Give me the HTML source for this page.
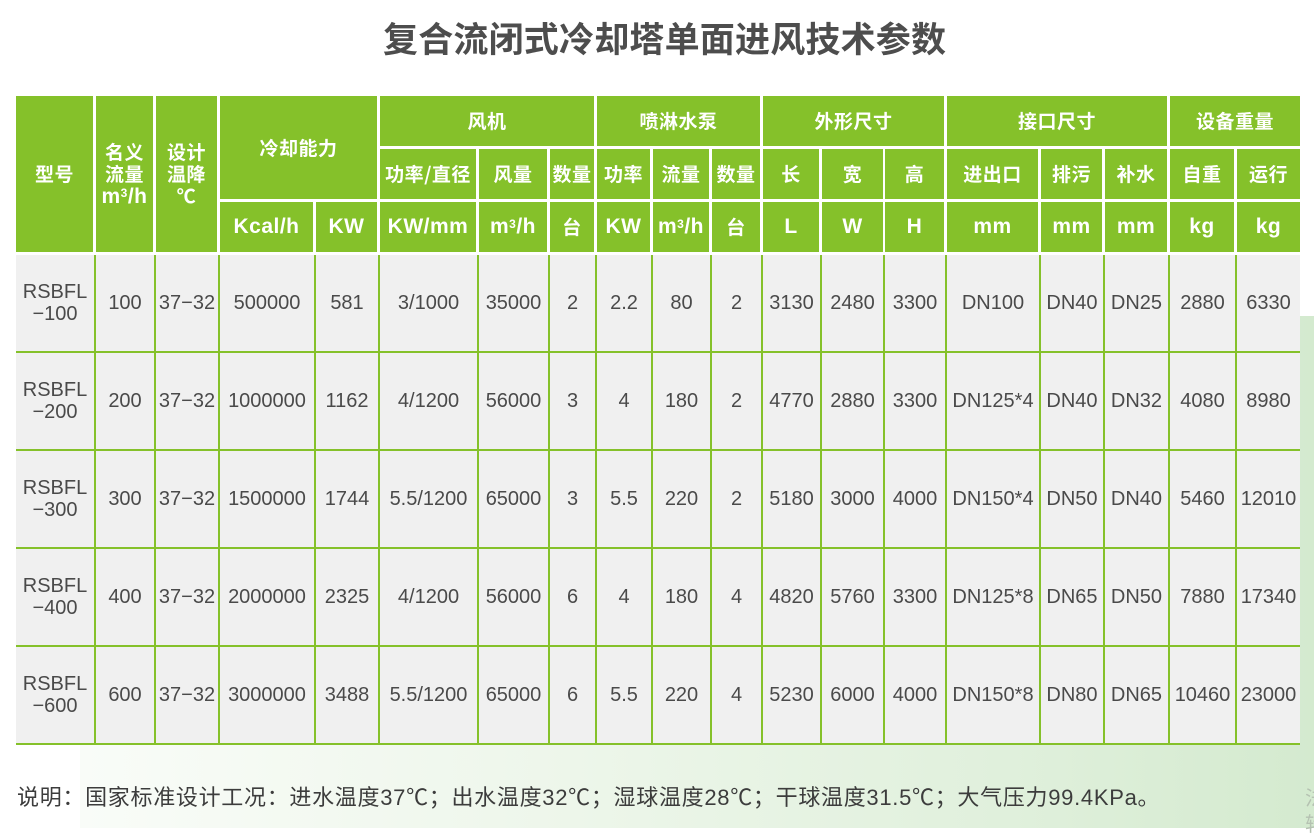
<!DOCTYPE html>
<html>
<head>
<meta charset="utf-8">
<style>
html,body{margin:0;padding:0;}
body{width:1314px;height:828px;position:relative;overflow:hidden;background:#fff;font-family:"Liberation Sans","Noto Sans CJK SC",sans-serif;}
.bgshape{position:absolute;left:80px;top:316px;right:0;bottom:0;background:linear-gradient(to right,#f9fcf8 0%,#edf6ea 40%,#e0f0dc 75%,#d4eacf 100%);border-top-left-radius:40px;}
.title{position:absolute;left:383px;top:20px;height:35px;line-height:35px;font-family:"Noto Sans CJK SC","Liberation Sans",sans-serif;font-size:35px;font-weight:bold;color:#4d4d4d;white-space:nowrap;letter-spacing:0.2px;}
.g{position:absolute;background:#85c12a;color:#fff;display:flex;align-items:center;justify-content:center;text-align:center;font-weight:bold;font-size:19px;letter-spacing:0.5px;white-space:nowrap;font-family:"Noto Sans CJK SC","Liberation Sans",sans-serif;line-height:22px;}
.u{font-family:"Liberation Sans","Noto Sans CJK SC",sans-serif;font-size:21px;letter-spacing:0.5px;}
.u sup{font-size:12px;vertical-align:top;position:relative;top:-3px;}
.gray{position:absolute;left:16px;top:255px;width:1284px;height:490px;background:#f0f0f0;}
.hl{position:absolute;left:16px;width:1284px;height:2px;background:#85c12a;}
.vl{position:absolute;top:255px;width:2px;height:490px;background:#85c12a;}
.c{position:absolute;display:flex;align-items:center;justify-content:center;text-align:center;font-size:20px;color:#4a4a4a;white-space:nowrap;line-height:22px;}
.foot{position:absolute;left:17px;top:786px;height:24px;line-height:24px;font-size:22px;color:#3c3c3c;letter-spacing:0.7px;white-space:nowrap;}
.faint{position:absolute;left:1305px;font-size:20px;color:#b5c2b2;font-family:"Noto Sans CJK SC",sans-serif;}
</style>
</head>
<body>
<div class="bgshape"></div>
<div class="title">复合流闭式冷却塔单面进风技术参数</div>

<!-- header -->
<div class="g" style="left:16px;top:96px;width:77px;height:156px;">型号</div>
<div class="g" style="left:96px;top:96px;width:57px;height:156px;"><div>名义<br>流量<br><span class="u">m<sup>3</sup>/h</span></div></div>
<div class="g" style="left:156px;top:96px;width:61px;height:156px;"><div>设计<br>温降<br>℃</div></div>
<div class="g" style="left:220px;top:96px;width:157px;height:103px;">冷却能力</div>
<div class="g" style="left:380px;top:96px;width:214px;height:50px;">风机</div>
<div class="g" style="left:597px;top:96px;width:163px;height:50px;">喷淋水泵</div>
<div class="g" style="left:763px;top:96px;width:181px;height:50px;">外形尺寸</div>
<div class="g" style="left:947px;top:96px;width:220px;height:50px;">接口尺寸</div>
<div class="g" style="left:1170px;top:96px;width:130px;height:50px;">设备重量</div>

<div class="g" style="left:380px;top:149px;width:96px;height:50px;">功率/直径</div>
<div class="g" style="left:479px;top:149px;width:68px;height:50px;">风量</div>
<div class="g" style="left:550px;top:149px;width:44px;height:50px;">数量</div>
<div class="g" style="left:597px;top:149px;width:53px;height:50px;">功率</div>
<div class="g" style="left:653px;top:149px;width:56px;height:50px;">流量</div>
<div class="g" style="left:712px;top:149px;width:48px;height:50px;">数量</div>
<div class="g" style="left:763px;top:149px;width:56px;height:50px;">长</div>
<div class="g" style="left:822px;top:149px;width:61px;height:50px;">宽</div>
<div class="g" style="left:885px;top:149px;width:59px;height:50px;">高</div>
<div class="g" style="left:947px;top:149px;width:91px;height:50px;">进出口</div>
<div class="g" style="left:1041px;top:149px;width:61px;height:50px;">排污</div>
<div class="g" style="left:1105px;top:149px;width:62px;height:50px;">补水</div>
<div class="g" style="left:1170px;top:149px;width:64px;height:50px;">自重</div>
<div class="g" style="left:1237px;top:149px;width:63px;height:50px;">运行</div>

<div class="g" style="left:220px;top:202px;width:93px;height:50px;"><span class="u">Kcal/h</span></div>
<div class="g" style="left:316px;top:202px;width:61px;height:50px;"><span class="u">KW</span></div>
<div class="g" style="left:380px;top:202px;width:96px;height:50px;"><span class="u">KW/mm</span></div>
<div class="g" style="left:479px;top:202px;width:68px;height:50px;"><span class="u">m<sup>3</sup>/h</span></div>
<div class="g" style="left:550px;top:202px;width:44px;height:50px;">台</div>
<div class="g" style="left:597px;top:202px;width:53px;height:50px;"><span class="u">KW</span></div>
<div class="g" style="left:653px;top:202px;width:56px;height:50px;"><span class="u">m<sup>3</sup>/h</span></div>
<div class="g" style="left:712px;top:202px;width:48px;height:50px;">台</div>
<div class="g" style="left:763px;top:202px;width:56px;height:50px;"><span class="u">L</span></div>
<div class="g" style="left:822px;top:202px;width:61px;height:50px;"><span class="u">W</span></div>
<div class="g" style="left:885px;top:202px;width:59px;height:50px;"><span class="u">H</span></div>
<div class="g" style="left:947px;top:202px;width:91px;height:50px;"><span class="u">mm</span></div>
<div class="g" style="left:1041px;top:202px;width:61px;height:50px;"><span class="u">mm</span></div>
<div class="g" style="left:1105px;top:202px;width:62px;height:50px;"><span class="u">mm</span></div>
<div class="g" style="left:1170px;top:202px;width:64px;height:50px;"><span class="u">kg</span></div>
<div class="g" style="left:1237px;top:202px;width:63px;height:50px;"><span class="u">kg</span></div>

<!-- body grid -->
<div class="gray"></div>
<div class="hl" style="top:351px;"></div>
<div class="hl" style="top:449px;"></div>
<div class="hl" style="top:547px;"></div>
<div class="hl" style="top:645px;"></div>
<div class="hl" style="top:743px;"></div>
<div class="vl" style="left:94px;"></div>
<div class="vl" style="left:154px;"></div>
<div class="vl" style="left:218px;"></div>
<div class="vl" style="left:314px;"></div>
<div class="vl" style="left:378px;"></div>
<div class="vl" style="left:477px;"></div>
<div class="vl" style="left:548px;"></div>
<div class="vl" style="left:595px;"></div>
<div class="vl" style="left:651px;"></div>
<div class="vl" style="left:710px;"></div>
<div class="vl" style="left:761px;"></div>
<div class="vl" style="left:820px;"></div>
<div class="vl" style="left:883px;"></div>
<div class="vl" style="left:945px;"></div>
<div class="vl" style="left:1039px;"></div>
<div class="vl" style="left:1103px;"></div>
<div class="vl" style="left:1168px;"></div>
<div class="vl" style="left:1235px;"></div>

<!-- row 1 -->
<div class="c" style="left:16px;top:255px;width:78px;height:96px;"><div>RSBFL<br>−100</div></div>
<div class="c" style="left:96px;top:255px;width:58px;height:96px;">100</div>
<div class="c" style="left:156px;top:255px;width:62px;height:96px;">37−32</div>
<div class="c" style="left:220px;top:255px;width:94px;height:96px;">500000</div>
<div class="c" style="left:316px;top:255px;width:62px;height:96px;">581</div>
<div class="c" style="left:380px;top:255px;width:97px;height:96px;">3/1000</div>
<div class="c" style="left:479px;top:255px;width:69px;height:96px;">35000</div>
<div class="c" style="left:550px;top:255px;width:45px;height:96px;">2</div>
<div class="c" style="left:597px;top:255px;width:54px;height:96px;">2.2</div>
<div class="c" style="left:653px;top:255px;width:57px;height:96px;">80</div>
<div class="c" style="left:712px;top:255px;width:49px;height:96px;">2</div>
<div class="c" style="left:763px;top:255px;width:57px;height:96px;">3130</div>
<div class="c" style="left:822px;top:255px;width:61px;height:96px;">2480</div>
<div class="c" style="left:885px;top:255px;width:60px;height:96px;">3300</div>
<div class="c" style="left:947px;top:255px;width:92px;height:96px;">DN100</div>
<div class="c" style="left:1041px;top:255px;width:62px;height:96px;">DN40</div>
<div class="c" style="left:1105px;top:255px;width:63px;height:96px;">DN25</div>
<div class="c" style="left:1170px;top:255px;width:65px;height:96px;">2880</div>
<div class="c" style="left:1237px;top:255px;width:63px;height:96px;">6330</div>

<!-- row 2 -->
<div class="c" style="left:16px;top:353px;width:78px;height:96px;"><div>RSBFL<br>−200</div></div>
<div class="c" style="left:96px;top:353px;width:58px;height:96px;">200</div>
<div class="c" style="left:156px;top:353px;width:62px;height:96px;">37−32</div>
<div class="c" style="left:220px;top:353px;width:94px;height:96px;">1000000</div>
<div class="c" style="left:316px;top:353px;width:62px;height:96px;">1162</div>
<div class="c" style="left:380px;top:353px;width:97px;height:96px;">4/1200</div>
<div class="c" style="left:479px;top:353px;width:69px;height:96px;">56000</div>
<div class="c" style="left:550px;top:353px;width:45px;height:96px;">3</div>
<div class="c" style="left:597px;top:353px;width:54px;height:96px;">4</div>
<div class="c" style="left:653px;top:353px;width:57px;height:96px;">180</div>
<div class="c" style="left:712px;top:353px;width:49px;height:96px;">2</div>
<div class="c" style="left:763px;top:353px;width:57px;height:96px;">4770</div>
<div class="c" style="left:822px;top:353px;width:61px;height:96px;">2880</div>
<div class="c" style="left:885px;top:353px;width:60px;height:96px;">3300</div>
<div class="c" style="left:947px;top:353px;width:92px;height:96px;">DN125*4</div>
<div class="c" style="left:1041px;top:353px;width:62px;height:96px;">DN40</div>
<div class="c" style="left:1105px;top:353px;width:63px;height:96px;">DN32</div>
<div class="c" style="left:1170px;top:353px;width:65px;height:96px;">4080</div>
<div class="c" style="left:1237px;top:353px;width:63px;height:96px;">8980</div>

<!-- row 3 -->
<div class="c" style="left:16px;top:451px;width:78px;height:96px;"><div>RSBFL<br>−300</div></div>
<div class="c" style="left:96px;top:451px;width:58px;height:96px;">300</div>
<div class="c" style="left:156px;top:451px;width:62px;height:96px;">37−32</div>
<div class="c" style="left:220px;top:451px;width:94px;height:96px;">1500000</div>
<div class="c" style="left:316px;top:451px;width:62px;height:96px;">1744</div>
<div class="c" style="left:380px;top:451px;width:97px;height:96px;">5.5/1200</div>
<div class="c" style="left:479px;top:451px;width:69px;height:96px;">65000</div>
<div class="c" style="left:550px;top:451px;width:45px;height:96px;">3</div>
<div class="c" style="left:597px;top:451px;width:54px;height:96px;">5.5</div>
<div class="c" style="left:653px;top:451px;width:57px;height:96px;">220</div>
<div class="c" style="left:712px;top:451px;width:49px;height:96px;">2</div>
<div class="c" style="left:763px;top:451px;width:57px;height:96px;">5180</div>
<div class="c" style="left:822px;top:451px;width:61px;height:96px;">3000</div>
<div class="c" style="left:885px;top:451px;width:60px;height:96px;">4000</div>
<div class="c" style="left:947px;top:451px;width:92px;height:96px;">DN150*4</div>
<div class="c" style="left:1041px;top:451px;width:62px;height:96px;">DN50</div>
<div class="c" style="left:1105px;top:451px;width:63px;height:96px;">DN40</div>
<div class="c" style="left:1170px;top:451px;width:65px;height:96px;">5460</div>
<div class="c" style="left:1237px;top:451px;width:63px;height:96px;">12010</div>

<!-- row 4 -->
<div class="c" style="left:16px;top:549px;width:78px;height:96px;"><div>RSBFL<br>−400</div></div>
<div class="c" style="left:96px;top:549px;width:58px;height:96px;">400</div>
<div class="c" style="left:156px;top:549px;width:62px;height:96px;">37−32</div>
<div class="c" style="left:220px;top:549px;width:94px;height:96px;">2000000</div>
<div class="c" style="left:316px;top:549px;width:62px;height:96px;">2325</div>
<div class="c" style="left:380px;top:549px;width:97px;height:96px;">4/1200</div>
<div class="c" style="left:479px;top:549px;width:69px;height:96px;">56000</div>
<div class="c" style="left:550px;top:549px;width:45px;height:96px;">6</div>
<div class="c" style="left:597px;top:549px;width:54px;height:96px;">4</div>
<div class="c" style="left:653px;top:549px;width:57px;height:96px;">180</div>
<div class="c" style="left:712px;top:549px;width:49px;height:96px;">4</div>
<div class="c" style="left:763px;top:549px;width:57px;height:96px;">4820</div>
<div class="c" style="left:822px;top:549px;width:61px;height:96px;">5760</div>
<div class="c" style="left:885px;top:549px;width:60px;height:96px;">3300</div>
<div class="c" style="left:947px;top:549px;width:92px;height:96px;">DN125*8</div>
<div class="c" style="left:1041px;top:549px;width:62px;height:96px;">DN65</div>
<div class="c" style="left:1105px;top:549px;width:63px;height:96px;">DN50</div>
<div class="c" style="left:1170px;top:549px;width:65px;height:96px;">7880</div>
<div class="c" style="left:1237px;top:549px;width:63px;height:96px;">17340</div>

<!-- row 5 -->
<div class="c" style="left:16px;top:647px;width:78px;height:96px;"><div>RSBFL<br>−600</div></div>
<div class="c" style="left:96px;top:647px;width:58px;height:96px;">600</div>
<div class="c" style="left:156px;top:647px;width:62px;height:96px;">37−32</div>
<div class="c" style="left:220px;top:647px;width:94px;height:96px;">3000000</div>
<div class="c" style="left:316px;top:647px;width:62px;height:96px;">3488</div>
<div class="c" style="left:380px;top:647px;width:97px;height:96px;">5.5/1200</div>
<div class="c" style="left:479px;top:647px;width:69px;height:96px;">65000</div>
<div class="c" style="left:550px;top:647px;width:45px;height:96px;">6</div>
<div class="c" style="left:597px;top:647px;width:54px;height:96px;">5.5</div>
<div class="c" style="left:653px;top:647px;width:57px;height:96px;">220</div>
<div class="c" style="left:712px;top:647px;width:49px;height:96px;">4</div>
<div class="c" style="left:763px;top:647px;width:57px;height:96px;">5230</div>
<div class="c" style="left:822px;top:647px;width:61px;height:96px;">6000</div>
<div class="c" style="left:885px;top:647px;width:60px;height:96px;">4000</div>
<div class="c" style="left:947px;top:647px;width:92px;height:96px;">DN150*8</div>
<div class="c" style="left:1041px;top:647px;width:62px;height:96px;">DN80</div>
<div class="c" style="left:1105px;top:647px;width:63px;height:96px;">DN65</div>
<div class="c" style="left:1170px;top:647px;width:65px;height:96px;">10460</div>
<div class="c" style="left:1237px;top:647px;width:63px;height:96px;">23000</div>

<div class="foot">说明：国家标准设计工况：进水温度37℃；出水温度32℃；湿球温度28℃；干球温度31.5℃；大气压力99.4KPa。</div>
<div class="faint" style="top:782px;">法</div>
<div class="faint" style="top:808px;">转</div>
</body>
</html>
